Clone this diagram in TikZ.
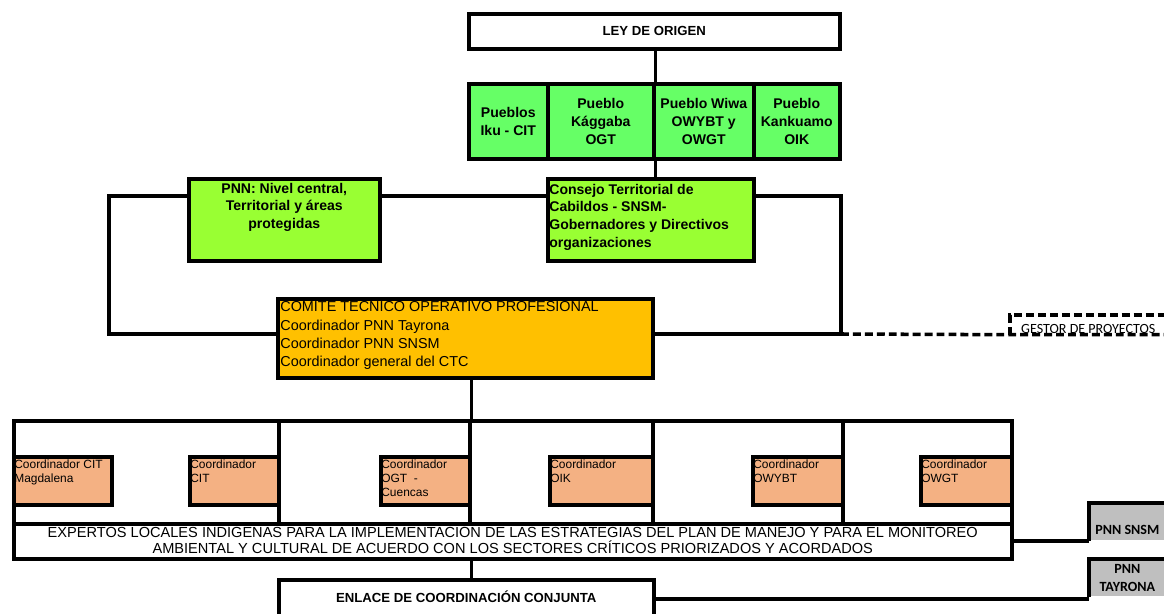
\documentclass[tikz,border=0pt]{standalone}
\usepackage{fontspec}
\setmainfont{Liberation Sans}
\newfontfamily\calibri{Carlito}
\usetikzlibrary{positioning, calc}
\definecolor{cPueblo}{RGB}{102,255,102}
\definecolor{cMesa}{RGB}{153,255,51}
\definecolor{cComite}{RGB}{255,192,0}
\definecolor{cCoord}{RGB}{244,177,131}
\definecolor{cGris}{RGB}{191,191,191}
\newdimen\pxu \pxu=0.02cm
\tikzset{
	dims/.style 2 args={minimum width=#1\pxu, minimum height=#2\pxu},
	base/.style   ={rectangle, draw=black, line width=2pt, inner sep=0pt, anchor=north west},
	plain/.style  ={base, fill=white, align=center},
	pueblo/.style ={base, fill=cPueblo, align=center, font=\bfseries\fontsize{8}{10.2}\selectfont},
	mesa/.style   ={base, fill=cMesa},
	comite/.style ={base, fill=cComite},
	coord/.style  ={base, fill=cCoord},
	celda/.style  ={base},
	gris/.style   ={rectangle, fill=cGris, inner sep=0pt, anchor=north west, align=center, font=\calibri\bfseries\fontsize{8}{10.2}\selectfont},
	lab/.style    ={inner sep=0pt, align=left},
	linea/.style  ={draw=black, line width=2pt},
	guiones/.style={draw=black, line width=2pt, dash pattern=on 4.5pt off 2.3pt},
}
\begin{document}
\begin{tikzpicture}[x=0.02cm, y=-0.02cm]
	\useasboundingbox (0,0) rectangle (1164,614);
	% cabecera y pueblos
	\node[plain, dims={371}{35}, font=\bfseries\fontsize{7.5}{9}\selectfont] (ley) at (467,12) {LEY DE ORIGEN};
	\node[pueblo, dims={79}{75}] (p1) at (467,82) {Pueblos\\Iku - CIT};
	\node[pueblo, dims={106}{75}] (p2) at (546,82) {Pueblo\\Kággaba\\OGT};
	\node[pueblo, dims={100}{75}] (p3) at (652,82) {Pueblo Wiwa\\OWYBT y\\OWGT};
	\node[pueblo, dims={86}{75}] (p4) at (752,82) {Pueblo\\Kankuamo\\OIK};
	% nivel de decision
	\node[mesa, dims={191}{82}, label={[lab, anchor=north, align=center, yshift=-5.5\pxu, font=\bfseries\fontsize{8}{10.2}\selectfont]north:{PNN: Nivel central,\\Territorial y áreas\\protegidas}}] (pnn) at (187,177) {};
	\node[mesa, dims={206}{82}, label={[lab, anchor=north west, xshift=3\pxu, yshift=-6.5\pxu, font=\bfseries\fontsize{8}{10.2}\selectfont]north west:{Consejo Territorial de\\Cabildos - SNSM-\\Gobernadores y Directivos\\organizaciones}}] (consejo) at (546,177) {};
	\node[comite, dims={375}{79}, label={[lab, anchor=north west, xshift=4\pxu, yshift=-2\pxu, font=\fontsize{8.2}{10.4}\selectfont]north west:{COMITÉ TÉCNICO OPERATIVO PROFESIONAL\\Coordinador PNN Tayrona\\Coordinador PNN SNSM\\Coordinador general del CTC}}] (ctc) at (276,297) {};
	\node[rectangle, inner sep=0pt, anchor=north west, dims={156}{19}, label={[lab, anchor=south, yshift=1\pxu, font=\calibri\fontsize{8}{9.6}\selectfont]south:GESTOR DE PROYECTOS}] (gestor) at (1010,315) {};
	\coordinate (lt) at (109,196);
	\coordinate (rt) at (841,196);
	\coordinate (lb) at (109,334);
	\coordinate (rb) at (841,334);
	\draw[linea] (p2.north east |- ley.south) -- (p2.north east);
	\draw[linea] (p2.south east) -- (p2.south east |- consejo.north);
	\draw[linea] (pnn.west |- lt) -- (lt) -- (lb) -- (ctc.west |- lb);
	\draw[linea] (pnn.east |- lt) -- (consejo.west |- lt);
	\draw[linea] (consejo.east |- rt) -- (rt) -- (rb) -- (ctc.east |- rb);
	\draw[guiones] (rb) -- (gestor.south west) -- (gestor.south east);
	\draw[guiones] (gestor.south west) -- (gestor.north west) -- (gestor.north east);
	% coordinadores locales
	\foreach \name/\l/\r in {c1/12/277, c2/277/468, c3/468/651, c4/651/841, c5/841/1010}{
		\pgfmathsetmacro\w{\r-\l}
		\node[celda, dims={\w}{103}] (\name) at (\l,419) {};
	}
	\foreach \name/\l/\r/\txt in {m1/12/110/{Coordinador CIT\\Magdalena}, m2/188/277/{Coordinador\\CIT}, m3/379/468/{Coordinador\\OGT~ -\\Cuencas}, m4/548/651/{Coordinador\\OIK}, m5/751/841/{Coordinador\\OWYBT}, m6/919/1010/{Coordinador\\OWGT}}{
		\pgfmathsetmacro\w{\r-\l}
		\node[coord, dims={\w}{48}, label={[lab, anchor=north west, xshift=2\pxu, yshift=-4\pxu, font=\fontsize{6.8}{8.25}\selectfont]north west:{\txt}}] (\name) at (\l,455) {};
	}
	\draw[linea] (c2.north east |- ctc.south) -- (c2.north east);
	\node[plain, dims={998}{35}, label={[lab, align=center, yshift=2\pxu, font=\fontsize{8.3}{9.1}\selectfont]center:{EXPERTOS LOCALES INDÍGENAS PARA LA IMPLEMENTACIÓN DE LAS ESTRATEGIAS DEL PLAN DE MANEJO Y PARA EL MONITOREO\\AMBIENTAL Y CULTURAL DE ACUERDO CON LOS SECTORES CRÍTICOS PRIORIZADOS Y ACORDADOS}}] (expertos) at (12,522) {};
	\node[plain, dims={375}{38}, label={[lab, yshift=2.5\pxu, font=\bfseries\fontsize{7.5}{9}\selectfont]center:ENLACE DE COORDINACIÓN CONJUNTA}] (enlace) at (277,578) {};
	\draw[linea] (c2.south east |- expertos.south) -- (c2.south east |- enlace.north);
	% parques
	\node[gris, dims={76}{37}, label={[lab, anchor=south, yshift=6\pxu, font=\calibri\bfseries\fontsize{8}{10.2}\selectfont]south:PNN SNSM}] (snsm) at (1089,503) {};
	\node[gris, dims={76}{37}] (tayrona) at (1089,559) {PNN\\TAYRONA};
	\draw[linea] (snsm.south west) -- (snsm.north west) -- (snsm.north east);
	\draw[linea] (tayrona.south west) -- (tayrona.north west) -- (tayrona.north east);
	\draw[linea] (expertos.east) -- (expertos.east -| snsm.west);
	\draw[linea] (enlace.east) -- (enlace.east -| tayrona.west);
\end{tikzpicture}
\end{document}
